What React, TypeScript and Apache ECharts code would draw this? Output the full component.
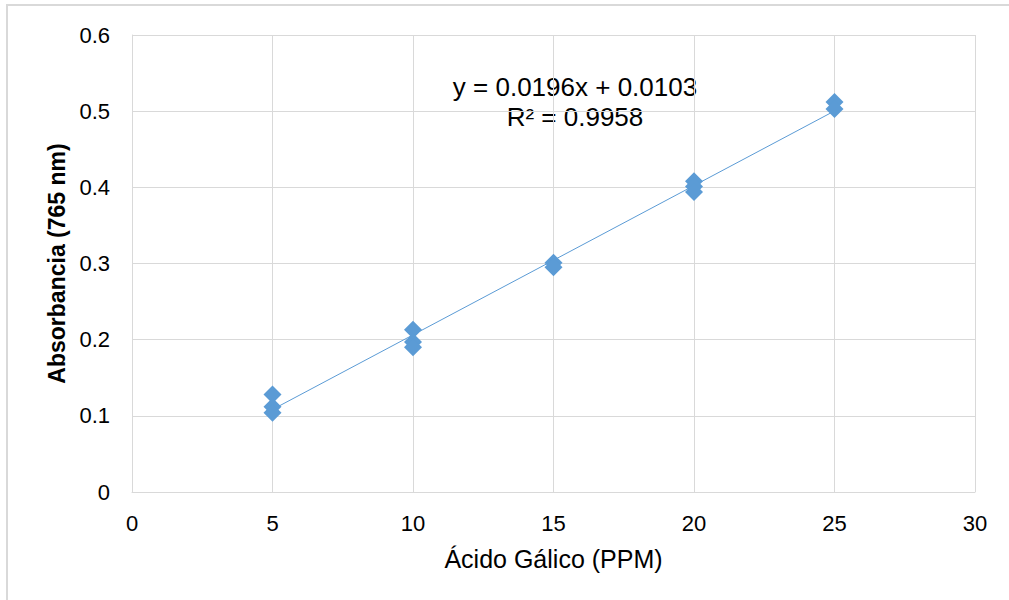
import React, { useEffect, useRef } from "react";
import * as echarts from "echarts";

const xValues = [5, 5, 5, 10, 10, 10, 15, 15, 20, 20, 20, 25, 25];
const yValues = [0.128, 0.112, 0.104, 0.213, 0.197, 0.19, 0.301, 0.295, 0.408, 0.401, 0.394, 0.512, 0.503];
const slope = 0.0196;
const intercept = 0.0103;
const trendRange = [5, 25];
const equationText = "y = 0.0196x + 0.0103";
const r2Text = "R² = 0.9958";

export default function App() {
  const ref = useRef<HTMLDivElement>(null);
  useEffect(() => {
    document.body.style.margin = "0";
    const chart = echarts.init(ref.current!, null, { renderer: "svg" });
    const font = "Liberation Sans, Arial, sans-serif";
    chart.setOption({
      animation: false,
      backgroundColor: "#ffffff",
      grid: { left: 132, top: 35, right: 34, bottom: 108, containLabel: false },
      xAxis: {
        type: "value",
        min: 0,
        max: 30,
        interval: 5,
        name: "Ácido Gálico (PPM)",
        nameLocation: "middle",
        nameGap: 54,
        nameTextStyle: { color: "#000", fontSize: 25, fontFamily: font },
        axisLine: { show: true, lineStyle: { color: "#d9d9d9", width: 1 } },
        axisTick: { show: false },
        axisLabel: { color: "#000", fontSize: 22, fontFamily: font, margin: 20 },
        splitLine: { show: true, lineStyle: { color: "#d9d9d9", width: 1 } },
      },
      yAxis: {
        type: "value",
        min: 0,
        max: 0.6,
        interval: 0.1,
        name: "Absorbancia (765 nm)",
        nameLocation: "middle",
        nameGap: 64,
        nameTextStyle: { color: "#000", fontSize: 23, fontWeight: "bold", fontFamily: font },
        axisLine: { show: true, lineStyle: { color: "#d9d9d9", width: 1 } },
        axisTick: { show: false },
        axisLabel: { color: "#000", fontSize: 22, fontFamily: font, margin: 22 },
        splitLine: { show: true, lineStyle: { color: "#d9d9d9", width: 1 } },
      },
      series: [
        {
          type: "line",
          data: trendRange.map((x) => [x, slope * x + intercept]),
          symbol: "none",
          lineStyle: { color: "#5B9BD5", width: 1 },
          silent: true,
          z: 1,
        },
        {
          type: "scatter",
          data: xValues.map((x, i) => [x, yValues[i]]),
          symbol: "diamond",
          symbolSize: 18,
          itemStyle: { color: "#5B9BD5", opacity: 1 },
          z: 2,
        },
      ],
      graphic: [
        {
          type: "rect",
          shape: { x: 7, y: 5, width: 1100, height: 700 },
          style: { fill: "none", stroke: "#d9d9d9", lineWidth: 2 },
          silent: true,
        },
        {
          type: "text",
          x: 575,
          y: 87,
          style: {
            text: equationText,
            fill: "#000",
            font: `26px ${font}`,
            textAlign: "center",
            textVerticalAlign: "middle",
          },
        },
        {
          type: "text",
          x: 575,
          y: 117,
          style: {
            text: r2Text,
            fill: "#000",
            font: `26px ${font}`,
            textAlign: "center",
            textVerticalAlign: "middle",
          },
        },
      ],
    });
    return () => chart.dispose();
  }, []);
  return <div ref={ref} style={{ width: 1009, height: 600 }} />;
}
